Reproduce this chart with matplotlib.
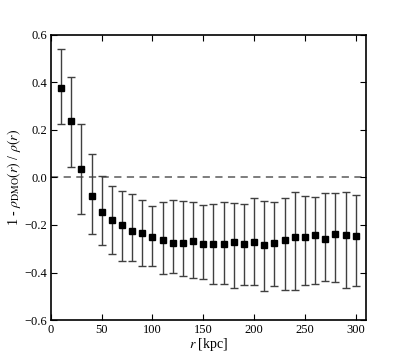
import matplotlib
matplotlib.use("Agg")
import matplotlib.pyplot as plt
import numpy as np

plt.rcParams['font.family'] = ['Liberation Serif', 'DejaVu Serif']
plt.rcParams['mathtext.fontset'] = 'stix'

r = [10, 20, 30, 40, 50, 60, 70, 80, 90, 100, 110, 120, 130, 140, 150,
     160, 170, 180, 190, 200, 210, 220, 230, 240, 250, 260, 270, 280, 290, 300]
val = [0.378, 0.236, 0.035, -0.079, -0.146, -0.181, -0.199, -0.226, -0.233, -0.251,
       -0.262, -0.274, -0.276, -0.268, -0.282, -0.282, -0.282, -0.272, -0.282, -0.271,
       -0.284, -0.274, -0.262, -0.251, -0.251, -0.244, -0.260, -0.236, -0.241, -0.247]
upper = [0.540, 0.421, 0.227, 0.098, 0.008, -0.036, -0.058, -0.070, -0.095, -0.120,
         -0.104, -0.093, -0.101, -0.104, -0.114, -0.111, -0.105, -0.107, -0.110, -0.086,
         -0.097, -0.102, -0.088, -0.060, -0.076, -0.083, -0.064, -0.064, -0.062, -0.073]
lower = [0.223, 0.042, -0.155, -0.240, -0.286, -0.320, -0.350, -0.350, -0.373, -0.373,
         -0.407, -0.403, -0.414, -0.421, -0.427, -0.448, -0.449, -0.466, -0.452, -0.453,
         -0.479, -0.458, -0.472, -0.472, -0.453, -0.448, -0.437, -0.442, -0.466, -0.455]

val_a = np.array(val)
yerr = [val_a - np.array(lower), np.array(upper) - val_a]

fig = plt.figure(figsize=(4.07, 3.56), dpi=100)
ax = fig.add_axes([0.125, 0.101, 0.774, 0.801])

ax.axhline(0.0, color='0.45', ls='--', lw=1.3, dashes=(4, 3), zorder=1)
ax.errorbar(r, val, yerr=yerr, fmt='s', color='black', ms=5,
            ecolor='0.25', elinewidth=1.0, capsize=3, capthick=1.0, zorder=3)

ax.set_xlim(0, 310)
ax.set_ylim(-0.6, 0.6)
ax.set_xticks([0, 50, 100, 150, 200, 250, 300])
ax.set_yticks([-0.6, -0.4, -0.2, 0.0, 0.2, 0.4, 0.6])
ax.tick_params(direction='in', top=True, right=True, length=4.5, width=0.8,
               labelsize=9, pad=2.5)
for s in ax.spines.values():
    s.set_linewidth(1.2)

ax.set_xlabel(r'$r$ [kpc]', fontsize=10, labelpad=0.5)
ax.set_ylabel(r'1 - $\rho_{\rm DMO}(r)$ / $\rho(r)$', fontsize=10, labelpad=1)

fig.savefig('out.png', dpi=100)
